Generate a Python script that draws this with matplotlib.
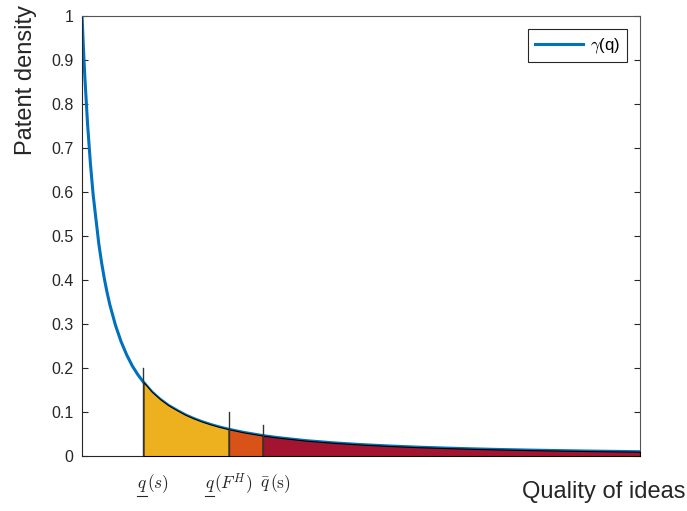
import matplotlib.pyplot as plt
import numpy as np

plt.rcParams['font.family'] = ['Liberation Sans', 'DejaVu Sans']
plt.rcParams['mathtext.fontset'] = 'cm'

# curve (x runs 0..1 across the axes)
q = [0, 0.0025, 0.005, 0.01, 0.015, 0.02, 0.03, 0.035, 0.04, 0.045, 0.05,
     0.06, 0.07, 0.08, 0.09, 0.1, 0.11, 0.125, 0.14, 0.155, 0.17, 0.185,
     0.2, 0.215, 0.23, 0.245, 0.263, 0.29, 0.324, 0.35, 0.4, 0.45, 0.5,
     0.55, 0.6, 0.65, 0.7, 0.75, 0.8, 0.85, 0.9, 0.95, 1.0]
gamma = [1.0, 0.927, 0.862, 0.753, 0.665, 0.593, 0.483, 0.440, 0.403, 0.371,
         0.343, 0.297, 0.260, 0.230, 0.205, 0.185, 0.168, 0.146, 0.129, 0.115,
         0.104, 0.0937, 0.0853, 0.0781, 0.0719, 0.0664, 0.0608, 0.0536,
         0.0464, 0.0420, 0.0351, 0.0300, 0.0260, 0.0228, 0.0202, 0.0181,
         0.0163, 0.0148, 0.0135, 0.0124, 0.0114, 0.0106, 0.0098]

# cut points and heights of the marker lines
cuts = [0.11, 0.263, 0.324]
cut_tops = [0.2, 0.1, 0.07]
# label pieces: head symbol, underlined?, rest
label_head = ['$q$', '$q$', r'$\bar{q}$']
label_under = [True, True, False]
label_rest = ['$(s)$', '$(F^H)$', r'$(\mathrm{s})$']
label_x = [0.099, 0.2196, 0.319]
fill_colors = ['#EDB120', '#D95319', '#A2142F']

q = np.array(q)
gamma = np.array(gamma)

fig = plt.figure(figsize=(6.87, 5.11), dpi=100)
ax = fig.add_axes([0.1194, 0.1076, 0.8122, 0.8611])

ax.plot(q, gamma, color='#0072BD', lw=2.2, label=r'$\gamma$(q)', zorder=2)

bounds = cuts + [1.0]
for i in range(3):
    m = (q >= bounds[i]) & (q <= bounds[i + 1])
    ax.fill_between(q[m], 0, gamma[m], facecolor=fill_colors[i],
                    edgecolor='black', lw=0.8, zorder=3)

for x, top in zip(cuts, cut_tops):
    ax.plot([x, x], [0, top], color='#333333', lw=1.0, zorder=4)

ax.set_xlim(0, 1)
ax.set_ylim(0, 1)
ax.set_xticks([])
ax.set_yticks(np.arange(0, 1.01, 0.1))
ax.set_yticklabels(['0', '0.1', '0.2', '0.3', '0.4', '0.5', '0.6', '0.7',
                    '0.8', '0.9', '1'])
ax.tick_params(axis='y', direction='in', right=True, length=4, pad=6,
               labelsize=11.5, colors='#262626', width=0.8)
for sp in ax.spines.values():
    sp.set_color('#555555')
    sp.set_linewidth(0.8)
ax.spines['left'].set_color('#262626')
ax.spines['bottom'].set_color('#262626')

ax.set_ylabel('Patent density', fontsize=17, color='#262626', loc='top')
ax.yaxis.set_label_coords(-0.08, 1.025)
fig.text(0.998, 0.037, 'Quality of ideas', ha='right', va='center',
         fontsize=17, color='#262626')

leg = ax.legend(loc='upper right', fontsize=12, fancybox=False,
                framealpha=1, edgecolor='#262626', handlelength=2.9,
                handletextpad=0.4, borderaxespad=0.8)
leg.get_frame().set_linewidth(0.8)

# x labels under the cut points
ylab = -0.073
heads = []
for x, h in zip(label_x, label_head):
    th = ax.text(x, ylab, h, ha='left', va='baseline', fontsize=12.5,
                 color='#262626', clip_on=False)
    heads.append(th)
fig.canvas.draw()
rend = fig.canvas.get_renderer()
inv = fig.transFigure.inverted()
dinv = ax.transData.inverted()
for th, under, r in zip(heads, label_under, label_rest):
    bb = th.get_window_extent(rend)
    xr = dinv.transform((bb.x1, 0))[0]
    ax.text(xr, ylab, r, ha='left', va='baseline', fontsize=12.5,
            color='#262626', clip_on=False)
    if under:
        y = bb.y0 - 2
        (x0, y0), (x1, _) = inv.transform([(bb.x0, y), (bb.x1, y)])
        fig.add_artist(plt.Line2D([x0, x1], [y0, y0], color='#262626',
                                  lw=0.8))

plt.savefig('out.png')
